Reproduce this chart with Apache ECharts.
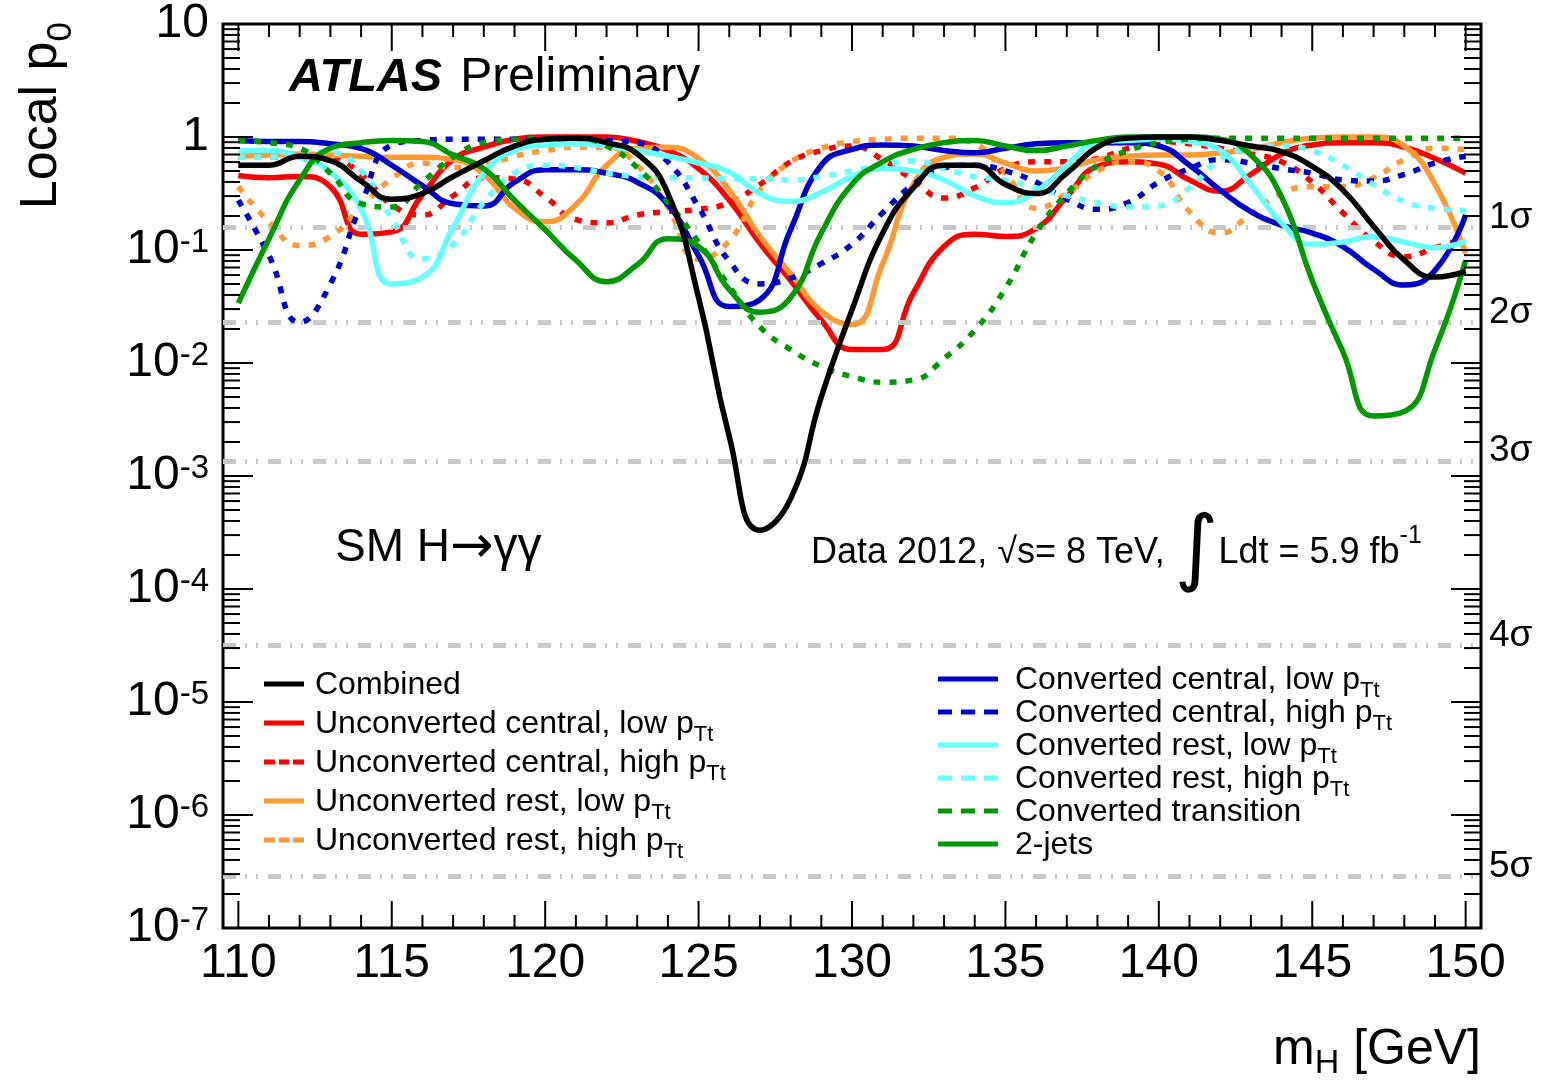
<!DOCTYPE html>
<html>
<head>
<meta charset="utf-8">
<title>Local p0 vs mH</title>
<script src="https://cdn.jsdelivr.net/npm/echarts@6/dist/echarts.min.js"></script>
<style>
  html, body { margin: 0; padding: 0; background: #ffffff; }
  #chart { width: 1545px; height: 1081px; }
</style>
</head>
<body>
<div id="chart"></div>
<script>
// ---------------------------------------------------------------------------
// Data: log10 of the local p0 per category, sampled every 1 GeV in mH
// ---------------------------------------------------------------------------
const masses = [110,111,112,113,114,115,116,117,118,119,120,121,122,123,124,125,126,127,128,129,130,
                131,132,133,134,135,136,137,138,139,140,141,142,143,144,145,146,147,148,149,150];

const logCombined = [-0.25,-0.25,-0.17,-0.21,-0.39,-0.55,-0.50,-0.35,-0.21,-0.08,-0.02,-0.01,-0.05,-0.15,-0.50,-1.42,-2.65,-3.48,-3.20,-2.30,-1.53,
                     -0.85,-0.45,-0.25,-0.25,-0.42,-0.50,-0.32,-0.09,-0.01,0.00,0.00,-0.03,-0.08,-0.13,-0.26,-0.47,-0.79,-1.09,-1.24,-1.19];
const logUncCentralLow = [-0.34,-0.36,-0.35,-0.44,-0.86,-0.84,-0.51,-0.20,-0.09,-0.02,0.00,0.00,0.00,-0.04,-0.12,-0.28,-0.56,-0.94,-1.27,-1.62,-1.88,
                          -1.88,-1.38,-0.97,-0.86,-0.88,-0.81,-0.53,-0.26,-0.22,-0.24,-0.38,-0.48,-0.33,-0.15,-0.07,-0.05,-0.05,-0.09,-0.19,-0.32];
const logUncCentralHigh = [-0.18,-0.18,-0.15,-0.17,-0.33,-0.60,-0.69,-0.52,-0.36,-0.37,-0.53,-0.73,-0.76,-0.69,-0.66,-0.64,-0.58,-0.42,-0.22,-0.12,-0.08,
                           -0.20,-0.38,-0.54,-0.45,-0.28,-0.22,-0.22,-0.19,-0.10,-0.04,-0.06,-0.10,-0.15,-0.22,-0.40,-0.67,-0.92,-1.06,-0.98,-0.90];
const logUncRestLow = [-0.17,-0.16,-0.15,-0.16,-0.17,-0.18,-0.18,-0.20,-0.33,-0.63,-0.75,-0.60,-0.25,-0.10,-0.09,-0.19,-0.47,-0.88,-1.21,-1.54,-1.66,
                       -1.12,-0.42,-0.18,-0.15,-0.23,-0.30,-0.27,-0.20,-0.17,-0.16,-0.16,-0.14,-0.11,-0.05,-0.01,0.00,0.00,-0.08,-0.42,-1.03];
const logUncRestHigh = [-0.44,-0.75,-0.96,-0.88,-0.62,-0.37,-0.23,-0.27,-0.25,-0.17,-0.12,-0.09,-0.09,-0.25,-0.62,-1.08,-0.92,-0.47,-0.22,-0.10,-0.04,
                        -0.02,-0.01,-0.01,-0.06,-0.32,-0.63,-0.50,-0.30,-0.22,-0.30,-0.66,-0.85,-0.68,-0.50,-0.44,-0.44,-0.36,-0.20,-0.10,-0.11];
const logConvCentralLow = [-0.03,-0.04,-0.04,-0.06,-0.10,-0.25,-0.43,-0.59,-0.61,-0.40,-0.29,-0.29,-0.32,-0.40,-0.60,-1.05,-1.50,-1.44,-0.82,-0.25,-0.11,
                           -0.07,-0.08,-0.12,-0.14,-0.10,-0.06,-0.05,-0.05,-0.05,-0.08,-0.25,-0.47,-0.66,-0.78,-0.85,-0.97,-1.17,-1.31,-1.18,-0.69];
const logConvCentralHigh = [-0.56,-1.05,-1.64,-1.30,-0.60,-0.07,-0.03,-0.02,-0.02,-0.02,-0.02,-0.02,-0.03,-0.05,-0.22,-0.62,-1.10,-1.30,-1.25,-1.12,-0.95,
                            -0.67,-0.42,-0.27,-0.25,-0.30,-0.40,-0.55,-0.64,-0.58,-0.40,-0.28,-0.20,-0.23,-0.28,-0.32,-0.38,-0.39,-0.33,-0.23,-0.17];
const logConvRestLow = [-0.12,-0.12,-0.18,-0.31,-0.64,-1.30,-1.24,-0.80,-0.32,-0.12,-0.07,-0.06,-0.08,-0.12,-0.17,-0.23,-0.31,-0.50,-0.57,-0.49,-0.35,
                        -0.28,-0.30,-0.38,-0.52,-0.58,-0.48,-0.25,-0.05,-0.03,-0.02,-0.04,-0.12,-0.42,-0.76,-0.95,-0.93,-0.88,-0.93,-0.98,-0.92];
const logConvRestHigh = [-0.18,-0.18,-0.14,-0.14,-0.30,-0.72,-1.08,-0.95,-0.58,-0.32,-0.25,-0.27,-0.32,-0.35,-0.36,-0.36,-0.37,-0.37,-0.38,-0.35,-0.30,
                         -0.25,-0.21,-0.28,-0.35,-0.38,-0.45,-0.52,-0.58,-0.62,-0.61,-0.45,-0.20,-0.10,-0.08,-0.12,-0.25,-0.42,-0.57,-0.63,-0.65];
const logConvTransition = [-0.03,-0.05,-0.10,-0.32,-0.59,-0.62,-0.40,-0.18,-0.05,-0.02,-0.01,-0.01,-0.08,-0.27,-0.58,-0.93,-1.32,-1.68,-1.88,-2.03,-2.12,
                           -2.17,-2.15,-1.96,-1.71,-1.34,-0.85,-0.50,-0.25,-0.12,-0.05,-0.02,-0.01,-0.01,-0.01,-0.01,-0.01,-0.01,-0.01,-0.01,-0.01];
const logTwoJets = [-1.47,-0.90,-0.38,-0.10,-0.05,-0.03,-0.04,-0.16,-0.28,-0.56,-0.82,-1.09,-1.28,-1.13,-0.90,-0.97,-1.35,-1.55,-1.42,-0.85,-0.42,
                    -0.22,-0.11,-0.05,-0.03,-0.08,-0.12,-0.08,-0.03,0.00,0.00,0.00,-0.02,-0.16,-0.53,-1.27,-1.90,-2.47,-2.43,-1.88,-1.09];

// Significance reference levels (one-sided p-values of 1..5 sigma)
const sigmaP = [0.1587, 0.02275, 0.00135, 3.167e-5, 2.867e-7];
const sigmaLabels = ['1σ', '2σ', '3σ', '4σ', '5σ'];

// Axis ticks
const xLabelValues = [110, 115, 120, 125, 130, 135, 140, 145, 150];
const yDecades = [1e-7, 1e-6, 1e-5, 1e-4, 1e-3, 1e-2, 1e-1, 1, 10];
const yMinorDigits = [2, 3, 4, 5, 6, 7, 8, 9];

// ---------------------------------------------------------------------------
const FONT = "'Liberation Sans', Arial, Helvetica, sans-serif";
const BLACK = '#000000', RED = '#ff0000', ORANGE = '#ff9933',
      BLUE = '#0000cc', CYAN = '#66ffff', GREEN = '#009900';

const curves = [
  { name: 'Unconverted central, low pTt',  values: logUncCentralLow,   color: RED,    dotted: false },
  { name: 'Unconverted central, high pTt', values: logUncCentralHigh,  color: RED,    dotted: true  },
  { name: 'Unconverted rest, low pTt',     values: logUncRestLow,      color: ORANGE, dotted: false },
  { name: 'Unconverted rest, high pTt',    values: logUncRestHigh,     color: ORANGE, dotted: true  },
  { name: 'Converted central, low pTt',    values: logConvCentralLow,  color: BLUE,   dotted: false },
  { name: 'Converted central, high pTt',   values: logConvCentralHigh, color: BLUE,   dotted: true  },
  { name: 'Converted rest, low pTt',       values: logConvRestLow,     color: CYAN,   dotted: false },
  { name: 'Converted rest, high pTt',      values: logConvRestHigh,    color: CYAN,   dotted: true  },
  { name: 'Converted transition',          values: logConvTransition,  color: GREEN,  dotted: true  },
  { name: '2-jets',                        values: logTwoJets,         color: GREEN,  dotted: false },
  { name: 'Combined',                      values: logCombined,        color: BLACK,  dotted: false }
];

function lineSeries(c, z) {
  return {
    type: 'line',
    name: c.name,
    data: masses.map((m, i) => [m, Math.pow(10, c.values[i])]),
    smooth: 0.5,
    symbol: 'none',
    showSymbol: false,
    z: z,
    color: c.color,
    lineStyle: { color: c.color, width: 5.5, type: c.dotted ? [7, 9] : 'solid', cap: 'butt' },
    emphasis: { disabled: true },
    animation: false
  };
}

// Tick marks drawn on all four sides of the frame, pointing inward
const tickData = [];
yDecades.forEach(v => tickData.push([130, v, 0]));
for (let e = -7; e <= 0; e++) {
  yMinorDigits.forEach(d => tickData.push([130, d * Math.pow(10, e), 1]));
}
for (let m = masses[0]; m <= masses[masses.length - 1]; m++) {
  tickData.push([m, 1, xLabelValues.indexOf(m) >= 0 ? 2 : 3]);
}

function renderTicks(params, api) {
  const cs = params.coordSys;
  const kind = api.value(2);
  const st = { stroke: '#000', lineWidth: 2 };
  if (kind < 2) {
    const py = api.coord([130, api.value(1)])[1];
    const len = kind === 0 ? 30 : 17;
    return { type: 'group', children: [
      { type: 'line', shape: { x1: cs.x, y1: py, x2: cs.x + len, y2: py }, style: st },
      { type: 'line', shape: { x1: cs.x + cs.width, y1: py, x2: cs.x + cs.width - len, y2: py }, style: st }
    ]};
  }
  const px = api.coord([api.value(0), 1])[0];
  const len = kind === 2 ? 27 : 13;
  return { type: 'group', children: [
    { type: 'line', shape: { x1: px, y1: cs.y + cs.height, x2: px, y2: cs.y + cs.height - len }, style: st },
    { type: 'line', shape: { x1: px, y1: cs.y, x2: px, y2: cs.y + len }, style: st }
  ]};
}

function makeLegendRich(lead) {
  return {
    n: { fontFamily: FONT, fontSize: 32, lineHeight: 30, color: '#000', verticalAlign: 'top', padding: [0, 0, 0, lead] },
    s: { fontFamily: FONT, fontSize: 22, lineHeight: 22, color: '#000', verticalAlign: 'top', padding: [16, 0, 0, 0] }
  };
}
function legendLabel(name) {
  if (name.endsWith(' pTt')) return '{n|' + name.slice(0, -2) + '}{s|Tt}';
  return '{n|' + name + '}{s| }';
}
// legend samples: a solid bar, or three short dashes for the dotted curves
function legendItems(names, dashIcon) {
  return names.map(nm => {
    const c = curves.find(k => k.name === nm);
    return { name: nm, icon: c.dotted ? dashIcon : 'rect' };
  });
}
const dashIconShort = 'path://M0,0h11v5h-11z M15,0h10v5h-10z M29,0h11v5h-11z';
const dashIconLong = 'path://M0,0h14v5h-14z M23,0h14v5h-14z M46,0h14v5h-14z';

const chart = echarts.init(document.getElementById('chart'), null, { renderer: 'canvas' });

const series = [];
// reference significance lines, drawn beneath the curves; the label sits just above its line
series.push({
  type: 'line',
  name: 'significance',
  data: [],
  z: 1,
  animation: false,
  markLine: {
    silent: true,
    precision: 10,
    symbol: ['none', 'none'],
    animation: false,
    lineStyle: { color: '#c8c8c8', width: 5, type: [13, 9, 2, 9, 2, 10] },
    label: {
      show: true, position: 'end', distance: 8,
      formatter: '{s|{b}}\n{e| }',
      rich: {
        s: { fontFamily: FONT, fontSize: 37, lineHeight: 37, color: '#000' },
        e: { fontFamily: FONT, fontSize: 8, lineHeight: 20, color: '#000' }
      }
    },
    emphasis: { disabled: true },
    data: sigmaP.map((p, i) => ({ yAxis: p, name: sigmaLabels[i] }))
  }
});
curves.forEach((c, i) => series.push(lineSeries(c, 3 + i)));
series.push({
  type: 'custom',
  name: 'ticks',
  data: tickData,
  encode: { x: 0, y: 1 },
  renderItem: renderTicks,
  silent: true,
  clip: false,
  z: 30,
  animation: false
});

chart.setOption({
  animation: false,
  backgroundColor: '#ffffff',
  textStyle: { fontFamily: FONT },
  grid: { left: 223, right: 64, top: 24, bottom: 153, show: true, borderColor: '#000', borderWidth: 3, backgroundColor: 'transparent' },
  xAxis: {
    type: 'value', min: 109.5, max: 150.5,
    axisLine: { show: false }, axisTick: { show: false }, splitLine: { show: false },
    axisLabel: {
      customValues: xLabelValues,
      formatter: v => (v % 5 === 0 ? String(v) : ''),
      fontFamily: FONT, fontSize: 48, color: '#000', margin: 12
    }
  },
  yAxis: {
    type: 'log', logBase: 10, min: 1e-7, max: 10, splitNumber: 8,
    axisLine: { show: false }, axisTick: { show: false }, splitLine: { show: false },
    axisLabel: {
      margin: 14,
      formatter: v => {
        const e = Math.round(Math.log10(v));
        if (e === 1) return '{b|10}';
        if (e === 0) return '{b|1}';
        return '{b|10}{s|' + e + '}';
      },
      rich: {
        b: { fontFamily: FONT, fontSize: 48, lineHeight: 48, color: '#000', verticalAlign: 'bottom' },
        s: { fontFamily: FONT, fontSize: 33, lineHeight: 33, color: '#000', verticalAlign: 'top', padding: [0, 0, 30, 0] }
      }
    }
  },
  legend: [
    {
      data: legendItems(['Combined', 'Unconverted central, low pTt', 'Unconverted central, high pTt',
                         'Unconverted rest, low pTt', 'Unconverted rest, high pTt'], dashIconShort),
      orient: 'vertical', left: 264, top: 669, padding: 0,
      itemWidth: 40, itemHeight: 5, itemGap: 1,
      selectedMode: false,
      formatter: legendLabel,
      textStyle: { rich: makeLegendRich(6) }
    },
    {
      data: legendItems(['Converted central, low pTt', 'Converted central, high pTt',
                         'Converted rest, low pTt', 'Converted rest, high pTt',
                         'Converted transition', '2-jets'], dashIconLong),
      orient: 'vertical', left: 938, top: 664, padding: 0,
      itemWidth: 60, itemHeight: 5, itemGap: -5,
      selectedMode: false,
      formatter: legendLabel,
      textStyle: { rich: makeLegendRich(12) }
    }
  ],
  graphic: [
    {
      type: 'text', x: 42, y: 22, rotation: Math.PI / 2,
      style: {
        text: '{m|Local p}{s|0}', align: 'right', verticalAlign: 'middle',
        rich: {
          m: { fontFamily: FONT, fontSize: 52, lineHeight: 52, fill: '#000', verticalAlign: 'top' },
          s: { fontFamily: FONT, fontSize: 35, lineHeight: 35, fill: '#000', verticalAlign: 'top', padding: [28, 0, 0, 0] }
        }
      }
    },
    {
      type: 'text', x: 1481, y: 1050,
      style: {
        text: '{m|m}{s|H}{m| [GeV]}', align: 'right', verticalAlign: 'middle',
        rich: {
          m: { fontFamily: FONT, fontSize: 50, lineHeight: 50, fill: '#000', verticalAlign: 'top' },
          s: { fontFamily: FONT, fontSize: 34, lineHeight: 34, fill: '#000', verticalAlign: 'top', padding: [22, 0, 0, 0] }
        }
      }
    },
    {
      type: 'text', x: 289, y: 78,
      style: {
        text: '{a|ATLAS}{b|Preliminary}', align: 'left', verticalAlign: 'middle',
        rich: {
          a: { fontFamily: FONT, fontSize: 47, fontWeight: 'bold', fontStyle: 'italic', fill: '#000' },
          b: { fontFamily: FONT, fontSize: 48, fill: '#000', padding: [0, 0, 0, 18] }
        }
      }
    },
    {
      type: 'text', x: 335, y: 548,
      style: {
        text: '{t|SM H}{r|→}{g|γγ}', align: 'left', verticalAlign: 'middle',
        rich: {
          t: { fontFamily: FONT, fontSize: 46, fill: '#000' },
          r: { fontFamily: "'DejaVu Sans', " + FONT, fontSize: 52, fill: '#000' },
          g: { fontFamily: FONT, fontSize: 48, fill: '#000' }
        }
      }
    },
    {
      type: 'text', x: 811, y: 553,
      style: {
        text: '{t|Data 2012, √s= 8 TeV, }{i|∫}{t|Ldt = 5.9 fb}{u|-1}', align: 'left', verticalAlign: 'middle',
        rich: {
          t: { fontFamily: FONT, fontSize: 36, lineHeight: 40, fill: '#000', verticalAlign: 'middle' },
          i: { fontFamily: "'DejaVu Sans', " + FONT, fontSize: 84, lineHeight: 90, fill: '#000', verticalAlign: 'middle' },
          u: { fontFamily: FONT, fontSize: 25, lineHeight: 25, fill: '#000', verticalAlign: 'top', padding: [16, 0, 0, 0] }
        }
      }
    }
  ],
  series: series
});
</script>
</body>
</html>
